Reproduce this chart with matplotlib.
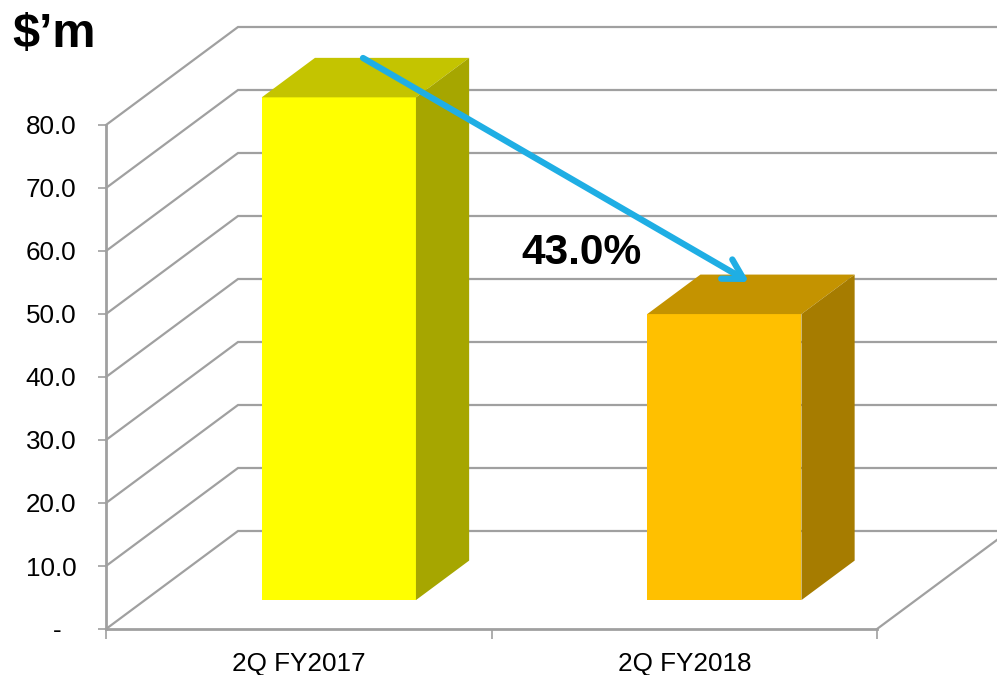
import matplotlib
matplotlib.use('Agg')
import matplotlib.pyplot as plt
from matplotlib.patches import Polygon

plt.rcParams['font.family'] = ['Liberation Sans', 'DejaVu Sans']

# data
categories = ['2Q FY2017', '2Q FY2018']
values = [79.8, 45.4]
y_ticks = [0, 10, 20, 30, 40, 50, 60, 70, 80]
y_labels = ['-  ', '10.0', '20.0', '30.0', '40.0', '50.0', '60.0', '70.0', '80.0']
front_colors = ['#FFFF00', '#FFC000']
top_colors = ['#C4C400', '#C49300']
side_colors = ['#A6A600', '#A67C00']
change_label = '43.0%'
unit_label = '$\u2019m'

W, H = 997, 675
GRID = '#A0A0A0'

# front plane of the chart box, in pixels
left, right, bottom, top = 106, 877, 629, 125

fig = plt.figure(figsize=(W / 100, H / 100), dpi=100)
ax = fig.add_axes([left / W, 1 - bottom / H, (right - left) / W, (bottom - top) / H])
ax.set_xlim(0, 2)
ax.set_ylim(0, 80)

# how far the back wall is shifted from the front plane, in data units
depth_x = 132 / ((right - left) / 2)
depth_y = 98 / ((bottom - top) / 80)


def project(x, y, d):
    return x + d * depth_x, y + d * depth_y


# grid on the back wall and the left wall
for t in y_ticks:
    xs = [0, depth_x, 2 + depth_x]
    ys = [t, t + depth_y, t + depth_y]
    ax.plot(xs, ys, color=GRID, lw=1.6, clip_on=False, zorder=1, solid_joinstyle='miter')

# floor edge on the right
ax.plot([2, 2 + depth_x], [0, depth_y], color=GRID, lw=1.6, clip_on=False, zorder=1)

# bars, sitting part way into the depth
d0, d1 = 0.295, 0.698
width = 0.4
for i, v in enumerate(values):
    x0 = i + 0.503 - width / 2
    x1 = i + 0.503 + width / 2
    a = project(x0, 0, d0)
    b = project(x1, 0, d0)
    c = project(x1, v, d0)
    e = project(x0, v, d0)
    f = project(x0, v, d1)
    g = project(x1, v, d1)
    h = project(x1, 0, d1)
    ax.add_patch(Polygon([a, b, c, e], fc=front_colors[i], ec='none', clip_on=False, zorder=3))
    ax.add_patch(Polygon([e, c, g, f], fc=top_colors[i], ec='none', clip_on=False, zorder=3))
    ax.add_patch(Polygon([b, h, g, c], fc=side_colors[i], ec='none', clip_on=False, zorder=3))

# axes
for s in ['top', 'right']:
    ax.spines[s].set_visible(False)
for s in ['left', 'bottom']:
    ax.spines[s].set_color(GRID)
    ax.spines[s].set_linewidth(2.0)
ax.set_yticks(y_ticks)
ax.set_yticklabels(y_labels)
ax.set_xticks([0, 1, 2])
ax.set_xticklabels([])
ax.set_xticks([0.5, 1.5], minor=True)
ax.set_xticklabels(categories, minor=True)
ax.tick_params(axis='y', length=6, width=1.2, color=GRID, labelsize=18.7, pad=15.5)
ax.tick_params(axis='x', which='major', length=7, width=1.2, color=GRID)
ax.tick_params(axis='x', which='minor', length=0, labelsize=18.8, pad=16.5)

# annotations, placed in figure pixels
fig.text(12 / W, 1 - 47 / H, unit_label, fontsize=34.9, fontweight='bold', color='black', va='baseline')
fig.text(521 / W, 1 - 264 / H, change_label, fontsize=30.6, fontweight='bold', color='black', va='baseline')

ax.annotate('', xy=(749 / W, 1 - 282 / H), xytext=(363 / W, 1 - 58 / H),
            xycoords='figure fraction', textcoords='figure fraction',
            arrowprops=dict(arrowstyle='->,head_length=1.4,head_width=0.8', color='#1FAEE4', lw=4.5,
                            shrinkA=0, shrinkB=0), zorder=6, annotation_clip=False)

fig.savefig('out.png', dpi=100)
